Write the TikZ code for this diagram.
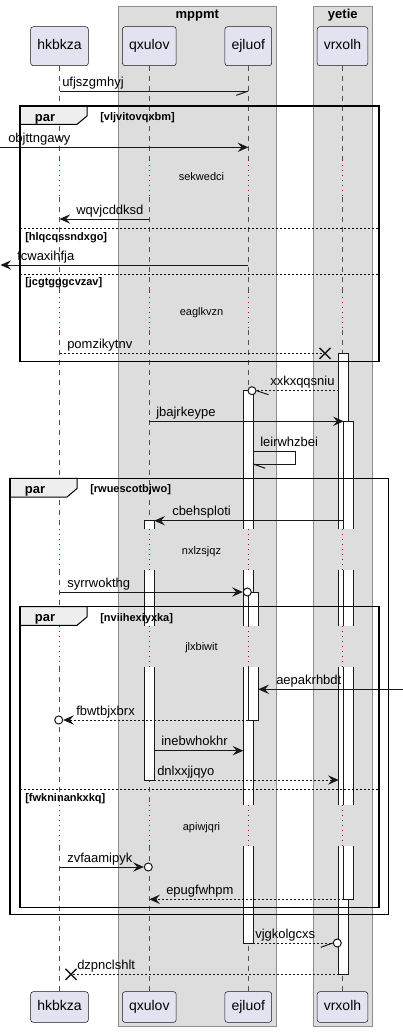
\documentclass[tikz,border=0pt]{standalone}
\usepackage{fontspec}
\setmainfont{Liberation Sans}
\usetikzlibrary{arrows.meta}
\definecolor{partfill}{HTML}{E2E2F0}
\definecolor{inkdark}{HTML}{181818}
\definecolor{boxfill}{HTML}{DDDDDD}
\definecolor{boxline}{HTML}{8F8F8F}
\definecolor{tabfill}{HTML}{EEEEEE}
\definecolor{delayred}{HTML}{A80036}
\newcommand{\partfont}{\fontsize{10.5}{12}\selectfont}
\newcommand{\msgfont}{\fontsize{9.75}{11}\selectfont}
\newcommand{\smallfont}{\fontsize{8.25}{10}\selectfont}
\tikzset{
  partbox/.style={draw=inkdark, fill=partfill, rounded corners=2pt, line width=0.4pt, inner xsep=5pt, text height=7.5pt, text depth=2pt, font=\partfont},
  grpbox/.style={draw=boxline, fill=boxfill, line width=0.6pt},
  grptitle/.style={anchor=base, inner sep=0pt, font=\msgfont\bfseries},
  lifeline/.style={draw=inkdark!75, line width=0.4pt, dash pattern=on 3.75pt off 3.75pt},
  delayline/.style={draw=delayred, line width=0.6pt, dash pattern=on 0.75pt off 3pt},
  actbox/.style={draw=inkdark, fill=white, line width=0.75pt},
  grpframe/.style={draw=black, line width=1.1pt},
  tabshape/.style={draw=black, fill=tabfill, line width=0.75pt},
  tablbl/.style={anchor=base, inner sep=0pt, font=\msgfont\bfseries},
  guard/.style={anchor=base west, inner sep=0pt, font=\smallfont\bfseries},
  sepline/.style={draw=black, line width=0.6pt, dash pattern=on 1.5pt off 1.5pt},
  msg/.style={draw=inkdark, line width=0.75pt},
  dmsg/.style={msg, dash pattern=on 1.5pt off 1.5pt},
  arr/.style={-{Stealth[length=8pt, width=7pt, inset=3pt]}},
  msglbl/.style={anchor=base west, inner sep=0pt, font=\msgfont},
  delaylbl/.style={anchor=base, inner sep=0pt, font=\smallfont},
  endcirc/.style={circle, draw=inkdark, fill=white, line width=0.75pt, minimum size=6pt, inner sep=0pt},
  xmark/.style={draw=inkdark, line width=1.1pt},
}
\begin{document}
\begin{tikzpicture}[x=0.75pt,y=-0.75pt]
\useasboundingbox (0,0) rectangle (403,1032);
\fill[white] (0,0) rectangle (403,1032);
% boxes
\draw[grpbox] (118.3,6) rectangle (276.3,1026.7);
\draw[grpbox] (313.3,6) rectangle (372.3,1026.7);
\node[grptitle] (mppmtT) at (197.3,18.5) {mppmt};
\node[grptitle] (yetieT) at (342.8,18.5) {yetie};
% participants
\node[partbox, minimum height=29.25pt] (hkT) at (59.5,46.2) {hkbkza};
\node[partbox, minimum height=29.25pt] (qxT) at (149.3,46.2) {qxulov};
\node[partbox, minimum height=29.25pt] (ejT) at (248.3,46.2) {ejluof};
\node[partbox, minimum height=29.25pt] (vrT) at (342.5,46.2) {vrxolh};
\node[partbox, minimum height=23pt] (hkB) at (59.5,1007) {hkbkza};
\node[partbox, minimum height=23pt] (qxB) at (149.3,1007) {qxulov};
\node[partbox, minimum height=23pt] (ejB) at (248.3,1007) {ejluof};
\node[partbox, minimum height=23pt] (vrB) at (342.5,1007) {vrxolh};
\foreach \p in {hkT,qxT,ejT,vrT}{
  \foreach \a/\b in {65.7/160,197/292,330/529,570/626,667/805,846/991.7}
    \draw[lifeline] (\p |- 0,\a) -- (\p |- 0,\b);
}
% activations
\coordinate (vr1) at (338.7,353.3); \coordinate (vr1e) at (348.3,974.3);
\coordinate (vr2) at (343.7,421.3); \coordinate (vr2e) at (353.3,899.3);
\coordinate (ej1) at (243.3,390.7); \coordinate (ej1e) at (253.3,943.3);
\coordinate (ej2) at (248.3,592); \coordinate (ej2e) at (258.3,720);
\coordinate (qx1) at (144.3,520.7); \coordinate (qx1e) at (154.3,780.3);
\draw[actbox] (vr1) rectangle (vr1e);
\draw[actbox] (vr2) rectangle (vr2e);
\draw[actbox] (ej1) rectangle (ej1e);
\draw[actbox] (ej2) rectangle (ej2e);
\draw[actbox] (qx1) rectangle (qx1e);
\foreach \a/\b in {529/570,626/667,805/846}{
  \fill[boxfill] (142,\a) rectangle (156,\b);
  \fill[boxfill] (241.5,\a) rectangle (260,\b);
  \fill[boxfill] (337,\a) rectangle (355,\b);
}
\foreach \p in {hkT,qxT,ejT,vrT}{
  \foreach \a/\b in {160/197,292/330,529/570,626/667,805/846}
    \draw[delayline] (\p |- 0,\a) -- (\p |- 0,\b);
}
\node[delaylbl] (d1) at (201.5,180) {sekwedci};
\node[delaylbl] (d2) at (201.5,315) {eaglkvzn};
\node[delaylbl] (d3) at (201.5,554.5) {nxlzsjqz};
\node[delaylbl] (d4) at (201.5,650.7) {jlxbiwit};
\node[delaylbl] (d5) at (201.5,830.5) {apiwjqri};
% frames
\filldraw[tabshape] (20,106) -- (87,106) -- (87,116) -- (77,124.3) -- (20,124.3) -- cycle;
\draw[grpframe] (20,106) rectangle (379,361.5);
\node[tablbl] (par1) at (45,121.3) {par};
\node[guard] (g1) at (100,120.5) {[vljvitovqxbm]};
\draw[sepline] (20,228.3) -- (379,228.3);
\node[guard] (g1b) at (25,240) {[hlqcqssndxgo]};
\draw[sepline] (20,274) -- (379,274);
\node[guard] (g1c) at (25,285.7) {[jcgtgggcvzav]};
\filldraw[tabshape] (10,478.3) -- (77,478.3) -- (77,488.5) -- (67,497) -- (10,497) -- cycle;
\draw[grpframe] (10,478.3) rectangle (388.3,914.3);
\node[tablbl] (par2) at (35,493.3) {par};
\node[guard] (g2) at (90,492.8) {[rwuescotbjwo]};
\filldraw[tabshape] (20,606.7) -- (87,606.7) -- (87,617) -- (77,625.3) -- (20,625.3) -- cycle;
\draw[grpframe] (20,606.7) rectangle (379,907.7);
\node[tablbl] (par3) at (45,621.9) {par};
\node[guard] (g3) at (100,621.4) {[nviihexiyxka]};
\draw[sepline] (20,789.3) -- (379,789.3);
\node[guard] (g3b) at (25,801) {[fwkninankxkq]};
% messages
\draw[msg] (hkT |- 0,91) -- (ejT |- 0,91) coordinate (m1e);
\draw[msg] (m1e) -- ++(-12,4.3);
\node[msglbl] (l1) at (62,86) {ufjszgmhyj};
\coordinate (lft2) at (0,147.3);
\draw[msg,arr] (lft2) -- (ejT |- lft2);
\node[msglbl] (l2) at (8,142.3) {objttngawy};
\draw[msg,arr] (qxT |- 0,219) -- (hkT |- 0,219);
\node[msglbl] (l3) at (76,214) {wqvjcddksd};
\coordinate (lft4) at (0.5,265);
\draw[msg,arr] (ejT |- lft4) -- (lft4);
\node[msglbl] (l4) at (17,260) {fcwaxihfja};
\coordinate (x5) at (325,353.3);
\draw[dmsg] (hkT |- x5) -- (x5);
\draw[xmark] (x5) ++(-5.5,-5.5) -- ++(11,11) (x5) ++(-5.5,5.5) -- ++(11,-11);
\node[msglbl] (l5) at (67,348.3) {pomzikytnv};
\node[endcirc] (c6) at (252,390.7) {};
\draw[dmsg] (vr1 |- c6) -- (c6.east);
\draw[msg] (c6.east) -- ++(12,4);
\node[msglbl] (l6) at (270,385.7) {xxkxqqsniu};
\draw[msg,arr] (qxT |- 0,421.3) -- (vr2 |- 0,421.3);
\node[msglbl] (l7) at (156,416.3) {jbajrkeype};
\coordinate (s8) at (295,451.7);
\draw[msg] (ej1e |- s8) -- (s8) -- (s8 |- 0,464) -- (ej1e |- 0,464) coordinate (m8e);
\draw[msg] (m8e) -- ++(12,4.3);
\node[msglbl] (l8) at (260,446.7) {leirwhzbei};
\draw[msg,arr] (vr2 |- 0,520.7) -- (qx1e |- 0,520.7);
\node[msglbl] (l9) at (172,515.7) {cbehsploti};
\node[endcirc] (c10) at (247.3,592) {};
\draw[msg,arr] (hkT |- c10) -- (c10.west);
\node[msglbl] (l10) at (67,587) {syrrwokthg};
\coordinate (rgt11) at (403,689.3);
\draw[msg,arr] (rgt11) -- (ej2e |- rgt11);
\node[msglbl] (l11) at (276,684.3) {aepakrhbdt};
\node[endcirc] (c12) at (58.7,720) {};
\draw[dmsg,arr] (ej2 |- c12) -- (c12.east);
\node[msglbl] (l12) at (76,715) {fbwtbjxbrx};
\draw[msg,arr] (qx1e |- 0,750.7) -- (ej1 |- 0,750.7);
\node[msglbl] (l13) at (161,745.7) {inebwhokhr};
\draw[dmsg,arr] (qx1e |- 0,780) -- (vr1 |- 0,780);
\node[msglbl] (l14) at (157,775) {dnlxxjjqyo};
\node[endcirc] (c15) at (148.3,867) {};
\draw[msg,arr] (hkT |- c15) -- (c15.west);
\node[msglbl] (l15) at (67,862) {zvfaamipyk};
\draw[dmsg,arr] (vr2 |- 0,899.3) -- (qxT |- 0,899.3);
\node[msglbl] (l16) at (166,894.3) {epugfwhpm};
\node[endcirc] (c17) at (337.3,943) {};
\draw[dmsg] (ej1e |- c17) -- (c17.west);
\draw[msg] (c17.west) -- ++(-12,4.3);
\node[msglbl] (l17) at (255,938) {vjgkolgcxs};
\coordinate (x18) at (71,974.3);
\draw[dmsg] (vr1 |- x18) -- (x18);
\draw[xmark] (x18) ++(-5.5,-5.5) -- ++(11,11) (x18) ++(-5.5,5.5) -- ++(11,-11);
\node[msglbl] (l18) at (77,969.3) {dzpnclshlt};
\end{tikzpicture}
\end{document}
